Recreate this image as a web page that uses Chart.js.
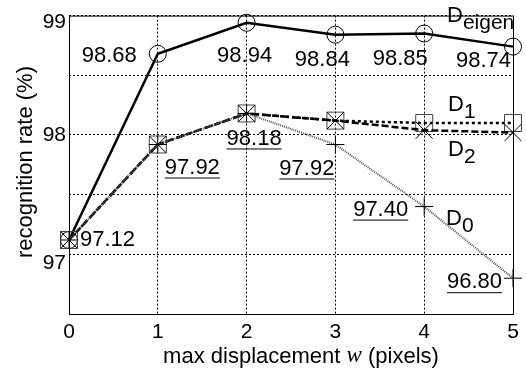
<!DOCTYPE html>
<html>
<head>
<meta charset="utf-8">
<script src="https://cdn.jsdelivr.net/npm/chart.js@4/dist/chart.umd.min.js"></script>
<style>
  html, body { margin: 0; padding: 0; background: #fff; }
  #wrap { width: 526px; height: 372px; }
</style>
</head>
<body>
<div id="wrap"><canvas id="rateChart" width="526" height="372"></canvas></div>
<script>
  // max displacement w (pixels)
  const displacements = [0, 1, 2, 3, 4, 5];

  const dEigen = [97.12, 98.68, 98.94, 98.84, 98.85, 98.74];
  const d1 = [97.12, 97.92, 98.18, 98.12, 98.10, 98.10];
  const d2 = [97.12, 97.92, 98.18, 98.12, 98.04, 98.02];
  const d0 = [97.12, 97.92, 98.18, 97.92, 97.40, 96.80];

  const yTickLabels = [99, 98, 97];
  const yTickShift = [7, 0, 9]; // labels sit a bit low in the original

  // value labels: series, point index, text, underline
  const valueLabels = [
    ['eigen', 1, '98.68', false],
    ['eigen', 2, '98.94', false],
    ['eigen', 3, '98.84', false],
    ['eigen', 4, '98.85', false],
    ['eigen', 5, '98.74', false],
    ['d0', 0, '97.12', false],
    ['d0', 1, '97.92', true],
    ['d0', 2, '98.18', true],
    ['d0', 3, '97.92', true],
    ['d0', 4, '97.40', true],
    ['d0', 5, '96.80', true]
  ];
  // pixel offsets for the labels above (dx, dy, align)
  const labelOffsets = [
    [-21, 2, 'right'], [-2, 33, 'center'], [-13, 25, 'center'], [-24, 25, 'center'], [-2, 14, 'right'],
    [11, 0, 'left'], [7, 23, 'left'], [-20, 25, 'left'], [-1, 24, 'right'], [-16, 3, 'right'], [-11, 4, 'right']
  ];

  const seriesValues = { eigen: dEigen, d1: d1, d2: d2, d0: d0 };
  const FONT = '"Liberation Sans", Arial, sans-serif';

  function points(values) {
    return displacements.map((x, i) => ({ x: x, y: values[i] }));
  }

  function drawSub(ctx, main, sub, x, y) {
    ctx.font = '22px ' + FONT;
    ctx.textAlign = 'left';
    ctx.textBaseline = 'middle';
    ctx.fillText(main, x, y);
    const w = ctx.measureText(main).width;
    ctx.font = '21px ' + FONT;
    ctx.fillText(sub, x + w, y + 7);
  }

  const annotations = {
    id: 'annotations',
    afterDatasetsDraw(chart) {
      const ctx = chart.ctx;
      const xs = chart.scales.x;
      const ys = chart.scales.y;
      const area = chart.chartArea;
      ctx.save();

      // box around the plot
      ctx.strokeStyle = '#000';
      ctx.lineWidth = 1;
      ctx.setLineDash([]);
      ctx.strokeRect(area.left + 0.5, area.top + 0.5, area.right - area.left, area.bottom - area.top);

      ctx.fillStyle = '#000';

      // y tick labels
      ctx.font = '21px ' + FONT;
      ctx.textAlign = 'right';
      ctx.textBaseline = 'middle';
      yTickLabels.forEach((v, i) => {
        ctx.fillText(String(v), area.left - 3, ys.getPixelForValue(v) + yTickShift[i]);
      });

      valueLabels.forEach((lab, k) => {
        const vals = seriesValues[lab[0]];
        const off = labelOffsets[k];
        const px = xs.getPixelForValue(displacements[lab[1]]) + off[0];
        const py = ys.getPixelForValue(vals[lab[1]]) + off[1];
        ctx.font = '22px ' + FONT;
        ctx.textAlign = off[2];
        ctx.textBaseline = 'middle';
        ctx.fillText(lab[2], px, py);
        if (lab[3]) {
          const w = ctx.measureText(lab[2]).width;
          let x0 = px;
          if (off[2] === 'right') x0 = px - w;
          if (off[2] === 'center') x0 = px - w / 2;
          ctx.fillRect(x0, py + 10, w, 1);
        }
      });

      // series names
      drawSub(ctx, 'D', 'eigen', 447, 16);
      drawSub(ctx, 'D', '1', 448, 105);
      drawSub(ctx, 'D', '2', 448, 150);
      drawSub(ctx, 'D', '0', 446, 219);

      // axis titles
      ctx.textBaseline = 'middle';
      const pre = 'max displacement ';
      const post = ' (pixels)';
      const serif = 'italic 23px "Liberation Serif", "DejaVu Serif", serif';
      ctx.font = '22px ' + FONT;
      const wPre = ctx.measureText(pre).width;
      const wPost = ctx.measureText(post).width;
      ctx.font = serif;
      const wW = ctx.measureText('w').width;
      const tx = 301 - (wPre + wW + wPost) / 2;
      ctx.textAlign = 'left';
      ctx.font = '22px ' + FONT;
      ctx.fillText(pre, tx, 357);
      ctx.font = serif;
      ctx.fillText('w', tx + wPre, 356);
      ctx.font = '22px ' + FONT;
      ctx.fillText(post, tx + wPre + wW, 357);

      ctx.translate(26, 162);
      ctx.rotate(-Math.PI / 2);
      ctx.textAlign = 'center';
      ctx.fillText('recognition rate (%)', 0, 0);
      ctx.restore();
    }
  };

  const ctx = document.getElementById('rateChart').getContext('2d');
  new Chart(ctx, {
    type: 'line',
    data: {
      datasets: [
        {
          label: 'D0',
          data: points(d0),
          borderColor: '#555',
          borderWidth: 2,
          borderDash: [1, 1],
          pointStyle: 'cross',
          pointRadius: 9,
          pointBorderColor: '#000',
          pointBorderWidth: 1,
          pointBackgroundColor: 'transparent',
          clip: false
        },
        {
          label: 'D2',
          data: points(d2),
          borderColor: '#000',
          borderWidth: 2.5,
          borderDash: [7, 3],
          pointStyle: 'crossRot',
          pointRadius: 12,
          pointBorderColor: '#000',
          pointBorderWidth: 1,
          pointBackgroundColor: 'transparent',
          clip: false
        },
        {
          label: 'D1',
          data: points(d1),
          borderColor: '#000',
          borderWidth: 2.5,
          borderDash: [3, 3],
          pointStyle: 'rect',
          pointRadius: 12,
          pointBorderColor: '#444',
          pointBorderWidth: 1,
          pointBackgroundColor: 'transparent',
          clip: false
        },
        {
          label: 'Deigen',
          data: points(dEigen),
          borderColor: '#000',
          borderWidth: 2.5,
          pointStyle: 'circle',
          pointRadius: 8.5,
          pointBorderColor: '#000',
          pointBorderWidth: 1,
          pointBackgroundColor: 'transparent',
          clip: false
        }
      ]
    },
    options: {
      responsive: false,
      animation: false,
      layout: { padding: { top: 12, right: 10, left: 0, bottom: 0 } },
      plugins: {
        legend: { display: false },
        tooltip: { enabled: false }
      },
      scales: {
        x: {
          type: 'linear',
          min: 0,
          max: 5,
          afterFit: scale => { scale.height = 58; },
          ticks: {
            stepSize: 1,
            color: '#000',
            padding: 6,
            font: { family: FONT, size: 21 }
          },
          grid: { color: '#000', lineWidth: 1, drawTicks: false },
          border: { display: false, dash: [2, 2] }
        },
        y: {
          min: 96.5,
          max: 99,
          afterFit: scale => { scale.width = 69; },
          ticks: {
            stepSize: 0.5,
            color: '#000',
            padding: 3,
            font: { family: FONT, size: 21 },
            callback: () => ''
          },
          grid: { color: '#000', lineWidth: 1, drawTicks: false },
          border: { display: false, dash: [2, 2] }
        }
      }
    },
    plugins: [annotations]
  });
</script>
</body>
</html>
